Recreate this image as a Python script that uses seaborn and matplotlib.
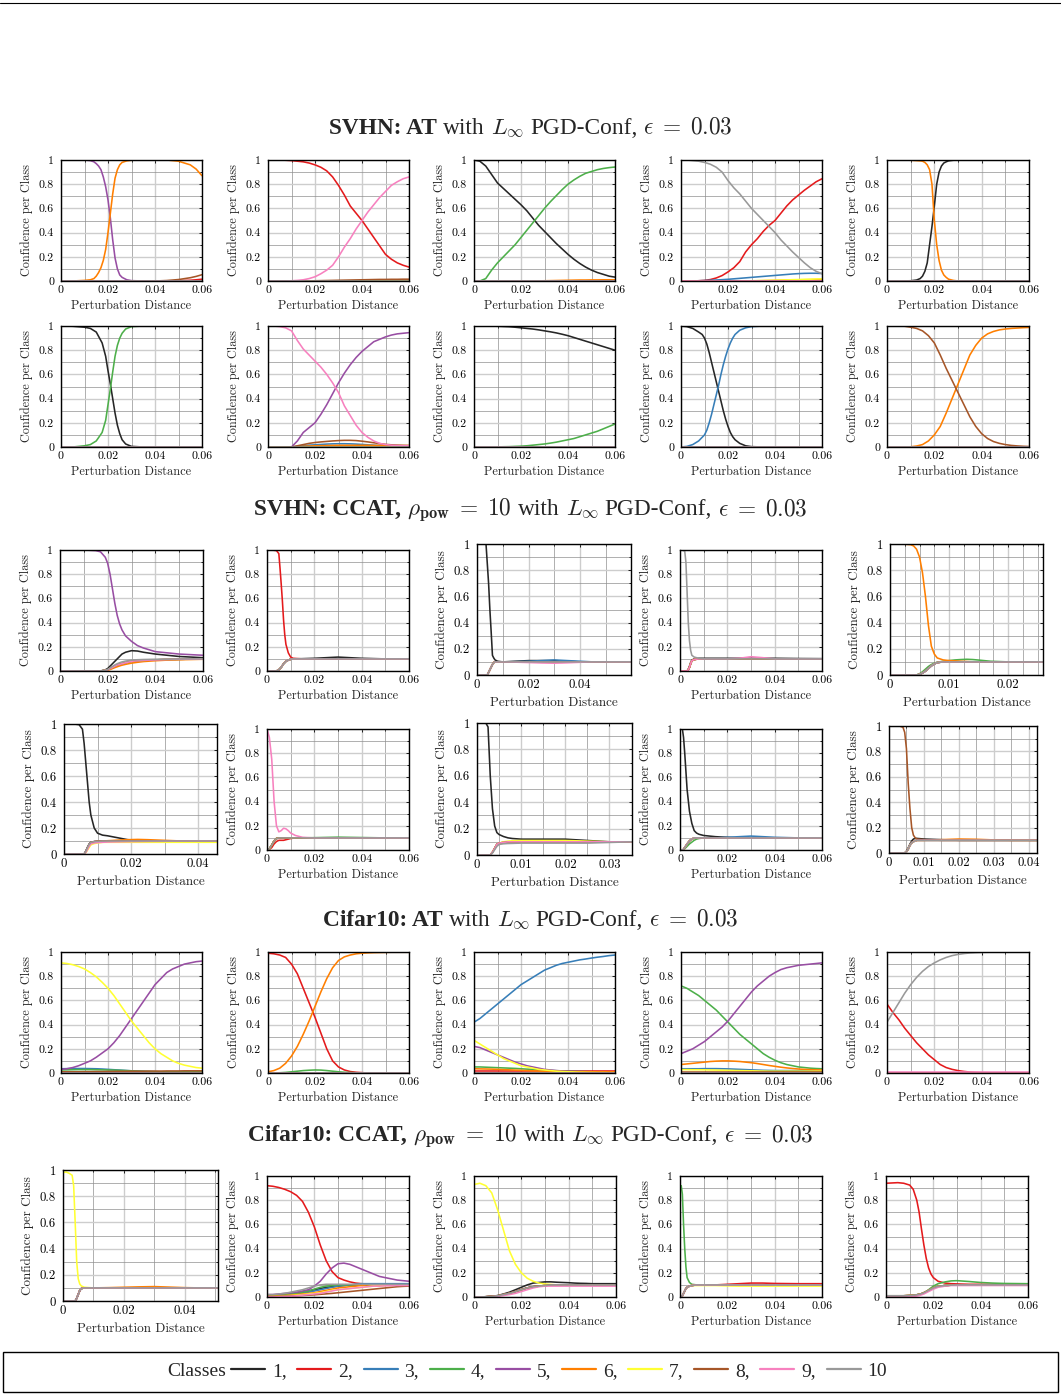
"""
Confidence per class along the adversarial direction (SVHN / Cifar10, AT vs CCAT).
Recreated as a 6 x 5 grid of small line panels plus a shared class legend.
"""

import numpy as np
import pandas as pd
import matplotlib

matplotlib.use("Agg")
import matplotlib.pyplot as plt
import seaborn as sns
from matplotlib.lines import Line2D
from matplotlib.patches import Rectangle
from matplotlib.ticker import MultipleLocator, FuncFormatter

sns.set_theme(style="white")
plt.rcParams["font.family"] = ["cmr10", "DejaVu Serif"]
plt.rcParams["mathtext.fontset"] = "cm"
plt.rcParams["axes.formatter.use_mathtext"] = True

W, H = 1061, 1395

CLASSES = ["1", "2", "3", "4", "5", "6", "7", "8", "9", "10"]
COLORS = ["#262626", "#e41a1c", "#377eb8", "#4daf4a", "#984ea3",
          "#ff7f00", "#ffff33", "#a65628", "#f781bf", "#999999"]
PALETTE = dict(zip(CLASSES, COLORS))

# ----------------------------------------------------------------------
# data: perturbation distance samples and confidences
# ----------------------------------------------------------------------
X60 = [0, 0.0025, 0.005, 0.0075, 0.01, 0.0125, 0.015, 0.0175, 0.02, 0.0225,
       0.025, 0.0275, 0.03, 0.0325, 0.035, 0.0375, 0.04, 0.0425, 0.045,
       0.0475, 0.05, 0.0525, 0.055, 0.0575, 0.06]
ZERO60 = [0, 0, 0, 0, 0, 0, 0, 0, 0, 0, 0, 0, 0, 0, 0, 0, 0, 0, 0, 0, 0, 0, 0, 0, 0]

# --- SVHN, AT -----------------------------------------------------------
A1_X = [0, 0.005, 0.01, 0.0125, 0.014, 0.015, 0.016, 0.017, 0.018, 0.019,
        0.02, 0.021, 0.022, 0.023, 0.024, 0.025, 0.026, 0.028, 0.03, 0.035,
        0.04, 0.045, 0.05, 0.055, 0.0575, 0.06]
A1 = {"x": A1_X,
      "rest": [0, 0, 0, 0, 0, 0, 0, 0, 0, 0, 0, 0, 0, 0, 0, 0, 0, 0, 0, 0, 0,
               0, 0, 0, 0, 0],
      "5": [1, 1, 1, 0.995, 0.985, 0.97, 0.95, 0.92, 0.86, 0.78, 0.67, 0.52,
            0.34, 0.19, 0.1, 0.05, 0.03, 0.01, 0.003, 0, 0, 0, 0, 0, 0, 0],
      "6": [0, 0, 0.005, 0.01, 0.02, 0.04, 0.07, 0.11, 0.17, 0.26, 0.4, 0.56,
            0.72, 0.85, 0.92, 0.96, 0.98, 0.993, 0.998, 1, 1, 1, 0.99, 0.96,
            0.925, 0.87],
      "8": [0, 0, 0, 0, 0, 0, 0, 0, 0, 0, 0, 0, 0, 0, 0, 0, 0, 0, 0, 0, 0,
            0.004, 0.012, 0.027, 0.038, 0.052],
      "2": [0, 0, 0, 0, 0, 0, 0, 0, 0, 0, 0, 0, 0, 0, 0, 0, 0, 0, 0, 0, 0, 0,
            0.003, 0.006, 0.01, 0.015]}
A2 = {"x": X60, "rest": ZERO60,
      "2": [1, 1, 1, 0.998, 0.995, 0.99, 0.985, 0.975, 0.96, 0.94, 0.91, 0.86,
            0.79, 0.71, 0.62, 0.56, 0.5, 0.43, 0.36, 0.29, 0.22, 0.18, 0.15,
            0.13, 0.115],
      "9": [0, 0, 0, 0, 0.002, 0.005, 0.01, 0.02, 0.035, 0.06, 0.09, 0.13,
            0.2, 0.28, 0.35, 0.43, 0.5, 0.57, 0.63, 0.69, 0.74, 0.79, 0.82,
            0.845, 0.86],
      "8": [0, 0, 0, 0, 0, 0, 0, 0, 0.002, 0.003, 0.004, 0.005, 0.006, 0.007,
            0.008, 0.009, 0.01, 0.011, 0.012, 0.013, 0.013, 0.014, 0.014,
            0.015, 0.015]}
A3 = {"x": X60, "rest": ZERO60,
      "1": [1, 0.99, 0.95, 0.88, 0.81, 0.765, 0.72, 0.675, 0.63, 0.58, 0.52,
            0.46, 0.41, 0.36, 0.31, 0.265, 0.22, 0.18, 0.145, 0.115, 0.09,
            0.07, 0.055, 0.04, 0.032],
      "4": [0, 0, 0.02, 0.09, 0.15, 0.2, 0.25, 0.3, 0.36, 0.42, 0.48, 0.54,
            0.6, 0.655, 0.705, 0.755, 0.8, 0.835, 0.865, 0.89, 0.905, 0.92,
            0.93, 0.937, 0.942],
      "6": [0, 0, 0, 0, 0, 0, 0, 0, 0, 0, 0, 0.001, 0.002, 0.003, 0.004, 0.005,
            0.006, 0.007, 0.008, 0.008, 0.009, 0.009, 0.01, 0.01, 0.01]}
A4 = {"x": X60, "rest": ZERO60,
      "10": [1, 1, 0.995, 0.99, 0.98, 0.965, 0.94, 0.9, 0.83, 0.77, 0.72,
             0.66, 0.6, 0.55, 0.5, 0.45, 0.4, 0.34, 0.29, 0.24, 0.195, 0.15,
             0.11, 0.08, 0.06],
      "2": [0, 0, 0, 0.002, 0.005, 0.012, 0.025, 0.045, 0.075, 0.11, 0.16,
            0.24, 0.3, 0.35, 0.41, 0.46, 0.5, 0.56, 0.62, 0.67, 0.71, 0.75,
            0.785, 0.82, 0.845],
      "3": [0, 0, 0, 0.002, 0.004, 0.006, 0.008, 0.011, 0.014, 0.018, 0.022,
            0.026, 0.03, 0.034, 0.038, 0.042, 0.046, 0.05, 0.054, 0.058,
            0.061, 0.063, 0.064, 0.064, 0.062],
      "6": [0, 0, 0, 0, 0, 0, 0, 0, 0, 0, 0, 0, 0.001, 0.002, 0.003, 0.004,
            0.005, 0.006, 0.007, 0.008, 0.009, 0.01, 0.011, 0.012, 0.013],
      "7": [0, 0, 0, 0, 0, 0, 0, 0, 0, 0, 0, 0.001, 0.002, 0.003, 0.004,
            0.005, 0.006, 0.008, 0.009, 0.011, 0.012, 0.014, 0.015, 0.017,
            0.018]}
A5_X = [0, 0.005, 0.01, 0.0125, 0.014, 0.015, 0.016, 0.017, 0.018, 0.019,
        0.02, 0.021, 0.022, 0.023, 0.024, 0.025, 0.026, 0.028, 0.03, 0.035,
        0.04, 0.05, 0.06]
A5 = {"x": A5_X,
      "rest": [0, 0, 0, 0, 0, 0, 0, 0, 0, 0, 0, 0, 0, 0, 0, 0, 0, 0, 0, 0, 0,
               0, 0],
      "1": [0, 0, 0.002, 0.008, 0.02, 0.04, 0.08, 0.15, 0.3, 0.45, 0.62, 0.8,
            0.9, 0.95, 0.975, 0.985, 0.993, 0.998, 1, 1, 1, 1, 1],
      "6": [1, 1, 0.998, 0.995, 0.993, 0.99, 0.98, 0.96, 0.92, 0.8, 0.5, 0.3,
            0.17, 0.09, 0.05, 0.03, 0.015, 0.005, 0, 0, 0, 0, 0]}
A6_X = [0, 0.005, 0.01, 0.0125, 0.015, 0.0175, 0.019, 0.02, 0.021, 0.022,
        0.023, 0.024, 0.025, 0.026, 0.0275, 0.03, 0.035, 0.04, 0.05, 0.06]
A6 = {"x": A6_X,
      "rest": [0, 0, 0, 0, 0, 0, 0, 0, 0, 0, 0, 0, 0, 0, 0, 0, 0, 0, 0, 0],
      "1": [1, 0.998, 0.99, 0.98, 0.95, 0.86, 0.75, 0.63, 0.52, 0.4, 0.28,
            0.18, 0.11, 0.06, 0.025, 0.005, 0, 0, 0, 0],
      "4": [0, 0, 0.01, 0.02, 0.05, 0.12, 0.22, 0.35, 0.48, 0.62, 0.75, 0.84,
            0.9, 0.94, 0.975, 0.995, 1, 1, 1, 1]}
A7 = {"x": X60, "rest": ZERO60,
      "9": [1, 1, 0.995, 0.985, 0.96, 0.88, 0.81, 0.76, 0.71, 0.66, 0.6, 0.53,
            0.45, 0.34, 0.26, 0.18, 0.12, 0.08, 0.05, 0.03, 0.02, 0.015,
            0.012, 0.01, 0.01],
      "5": [0, 0, 0, 0, 0, 0.05, 0.12, 0.16, 0.2, 0.27, 0.35, 0.44, 0.53, 0.61,
            0.68, 0.74, 0.79, 0.83, 0.87, 0.89, 0.91, 0.925, 0.935, 0.94,
            0.945],
      "8": [0, 0, 0, 0, 0, 0.01, 0.02, 0.03, 0.037, 0.042, 0.046, 0.05, 0.053,
            0.055, 0.055, 0.053, 0.048, 0.042, 0.035, 0.028, 0.022, 0.018,
            0.015, 0.013, 0.012],
      "3": [0, 0, 0, 0, 0, 0.005, 0.01, 0.015, 0.018, 0.021, 0.024, 0.026,
            0.027, 0.027, 0.026, 0.024, 0.021, 0.018, 0.015, 0.012, 0.01,
            0.009, 0.008, 0.007, 0.006],
      "6": [0, 0, 0, 0, 0, 0.003, 0.006, 0.008, 0.01, 0.011, 0.012, 0.013,
            0.014, 0.014, 0.014, 0.014, 0.014, 0.014, 0.013, 0.013, 0.013,
            0.012, 0.012, 0.012, 0.012]}
A8 = {"x": X60, "rest": ZERO60,
      "1": [1, 1, 1, 0.999, 0.998, 0.996, 0.994, 0.99, 0.985, 0.98, 0.975,
            0.968, 0.96, 0.952, 0.943, 0.932, 0.92, 0.905, 0.89, 0.875, 0.86,
            0.845, 0.83, 0.815, 0.8],
      "4": [0, 0, 0, 0, 0.001, 0.002, 0.003, 0.005, 0.007, 0.01, 0.015, 0.02,
            0.025, 0.032, 0.04, 0.05, 0.06, 0.07, 0.085, 0.1, 0.115, 0.13,
            0.15, 0.17, 0.19]}
A9_X = [0, 0.0025, 0.005, 0.0075, 0.009, 0.01, 0.011, 0.012, 0.013, 0.014,
        0.015, 0.016, 0.017, 0.018, 0.019, 0.02, 0.021, 0.022, 0.023, 0.025,
        0.0275, 0.03, 0.035, 0.04, 0.05, 0.06]
A9 = {"x": A9_X,
      "rest": [0, 0, 0, 0, 0, 0, 0, 0, 0, 0, 0, 0, 0, 0, 0, 0, 0, 0, 0, 0, 0,
               0, 0, 0, 0, 0],
      "1": [1, 0.995, 0.98, 0.95, 0.93, 0.9, 0.85, 0.78, 0.7, 0.62, 0.54, 0.46,
            0.38, 0.3, 0.23, 0.17, 0.12, 0.085, 0.06, 0.03, 0.01, 0.003, 0, 0,
            0, 0],
      "3": [0, 0.005, 0.02, 0.05, 0.08, 0.1, 0.14, 0.2, 0.27, 0.35, 0.43, 0.51,
            0.6, 0.68, 0.75, 0.81, 0.86, 0.9, 0.93, 0.965, 0.985, 0.995, 1, 1,
            1, 1]}
A10 = {"x": X60, "rest": ZERO60,
       "8": [1, 1, 1, 0.998, 0.99, 0.98, 0.96, 0.92, 0.86, 0.76, 0.65, 0.55,
             0.45, 0.35, 0.25, 0.17, 0.11, 0.07, 0.045, 0.03, 0.02, 0.013,
             0.009, 0.006, 0.004],
       "6": [0, 0, 0, 0, 0.002, 0.008, 0.02, 0.05, 0.1, 0.17, 0.28, 0.4, 0.52,
             0.64, 0.76, 0.84, 0.9, 0.935, 0.955, 0.968, 0.975, 0.98, 0.983,
             0.986, 0.988]}

# --- SVHN, CCAT ---------------------------------------------------------
B1_X = [0, 0.005, 0.01, 0.015, 0.017, 0.019, 0.02, 0.021, 0.022, 0.023,
        0.024, 0.025, 0.026, 0.0275, 0.03, 0.0325, 0.035, 0.04, 0.045, 0.05,
        0.055, 0.06]
B1 = {"x": B1_X,
      "rest": [0, 0, 0, 0, 0, 0.005, 0.01, 0.02, 0.03, 0.04, 0.05, 0.055,
               0.06, 0.068, 0.08, 0.085, 0.088, 0.092, 0.095, 0.097, 0.098, 0.1],
      "5": [1, 1, 1, 0.995, 0.985, 0.94, 0.89, 0.8, 0.68, 0.56, 0.46, 0.39,
            0.34, 0.29, 0.245, 0.21, 0.19, 0.16, 0.15, 0.14, 0.135, 0.13],
      "1": [0, 0, 0, 0, 0, 0.01, 0.02, 0.04, 0.06, 0.08, 0.1, 0.12, 0.14,
            0.155, 0.168, 0.165, 0.155, 0.14, 0.13, 0.12, 0.115, 0.11],
      "6": [0, 0, 0, 0, 0, 0.003, 0.006, 0.012, 0.02, 0.028, 0.035, 0.042,
            0.048, 0.055, 0.065, 0.072, 0.078, 0.085, 0.09, 0.093, 0.095,
            0.097],
      "10": [0, 0, 0, 0, 0, 0.006, 0.012, 0.025, 0.038, 0.05, 0.06, 0.068,
             0.075, 0.082, 0.09, 0.093, 0.095, 0.097, 0.098, 0.099, 0.1, 0.1]}
B2_X = [0, 0.002, 0.004, 0.005, 0.0055, 0.006, 0.0065, 0.007, 0.0075, 0.008,
        0.009, 0.01, 0.011, 0.015, 0.02, 0.025, 0.03, 0.035, 0.04, 0.05, 0.06]
B2 = {"x": B2_X,
      "rest": [0, 0, 0, 0.01, 0.02, 0.03, 0.045, 0.06, 0.07, 0.08, 0.09,
               0.097, 0.1, 0.1, 0.1, 0.1, 0.1, 0.1, 0.1, 0.1, 0.1],
      "2": [1, 1, 0.995, 0.97, 0.85, 0.72, 0.58, 0.42, 0.3, 0.22, 0.15, 0.115,
            0.105, 0.1, 0.1, 0.1, 0.1, 0.1, 0.1, 0.1, 0.1],
      "1": [0, 0, 0, 0.01, 0.02, 0.03, 0.045, 0.06, 0.07, 0.08, 0.09, 0.097,
            0.1, 0.102, 0.105, 0.11, 0.115, 0.11, 0.105, 0.1, 0.1]}
B3_X = [0, 0.002, 0.003, 0.0035, 0.004, 0.0045, 0.005, 0.0055, 0.006, 0.0065,
        0.007, 0.008, 0.01, 0.015, 0.02, 0.025, 0.03, 0.035, 0.04, 0.045,
        0.05, 0.0598]
B3 = {"x": B3_X,
      "rest": [0, 0, 0, 0, 0, 0.02, 0.04, 0.06, 0.08, 0.095, 0.1, 0.1, 0.1,
               0.1, 0.1, 0.1, 0.1, 0.1, 0.1, 0.1, 0.1, 0.1],
      "1": [1, 1, 1, 1, 0.85, 0.7, 0.5, 0.33, 0.15, 0.13, 0.115, 0.105, 0.1,
            0.105, 0.11, 0.11, 0.11, 0.105, 0.1, 0.1, 0.1, 0.1],
      "3": [0, 0, 0, 0, 0, 0.02, 0.04, 0.06, 0.08, 0.095, 0.1, 0.1, 0.1,
            0.102, 0.105, 0.11, 0.115, 0.11, 0.105, 0.1, 0.1, 0.1],
      "9": [0, 0, 0, 0, 0, 0.02, 0.04, 0.06, 0.08, 0.095, 0.1, 0.1, 0.1,
            0.098, 0.095, 0.092, 0.09, 0.093, 0.097, 0.1, 0.1, 0.1]}
B4_X = [0, 0.001, 0.002, 0.0025, 0.003, 0.0035, 0.004, 0.0045, 0.005, 0.006,
        0.008, 0.01, 0.02, 0.025, 0.03, 0.035, 0.04, 0.05, 0.06]
B4 = {"x": B4_X,
      "rest": [0, 0, 0, 0, 0, 0.01, 0.03, 0.06, 0.085, 0.095, 0.1, 0.1, 0.1,
               0.1, 0.1, 0.1, 0.1, 0.1, 0.1],
      "10": [1, 1, 0.99, 0.9, 0.65, 0.4, 0.25, 0.17, 0.13, 0.115, 0.105, 0.1,
             0.1, 0.1, 0.1, 0.1, 0.1, 0.1, 0.1],
      "9": [0, 0, 0, 0, 0, 0.01, 0.03, 0.06, 0.085, 0.095, 0.1, 0.1, 0.1,
            0.105, 0.118, 0.11, 0.1, 0.1, 0.1],
      "1": [0, 0, 0, 0, 0, 0.015, 0.04, 0.07, 0.09, 0.1, 0.105, 0.105, 0.105,
            0.105, 0.105, 0.105, 0.105, 0.103, 0.102]}
B5_X = [0, 0.002, 0.0035, 0.004, 0.0045, 0.005, 0.0055, 0.006, 0.0065, 0.007,
        0.0075, 0.008, 0.009, 0.01, 0.011, 0.012, 0.013, 0.014, 0.015, 0.017,
        0.02, 0.0259]
B5 = {"x": B5_X,
      "rest": [0, 0, 0, 0, 0, 0.005, 0.015, 0.03, 0.05, 0.07, 0.085, 0.095,
               0.1, 0.1, 0.1, 0.1, 0.1, 0.1, 0.1, 0.1, 0.1, 0.1],
      "6": [1, 1, 0.995, 0.985, 0.96, 0.9, 0.78, 0.6, 0.38, 0.22, 0.16, 0.13,
            0.115, 0.11, 0.108, 0.105, 0.103, 0.1, 0.1, 0.1, 0.1, 0.1],
      "4": [0, 0, 0, 0, 0, 0.01, 0.025, 0.045, 0.065, 0.08, 0.09, 0.098,
            0.105, 0.11, 0.115, 0.118, 0.12, 0.118, 0.114, 0.105, 0.1, 0.1]}
B6_X = [0, 0.003, 0.0045, 0.0055, 0.006, 0.0065, 0.007, 0.0075, 0.008,
        0.009, 0.01, 0.0115, 0.013, 0.015, 0.017, 0.019, 0.022, 0.025, 0.03,
        0.035, 0.04, 0.0456]
B6 = {"x": B6_X,
      "rest": [0, 0, 0, 0, 0, 0.02, 0.05, 0.075, 0.09, 0.095, 0.097, 0.1, 0.1,
               0.1, 0.1, 0.1, 0.1, 0.1, 0.1, 0.1, 0.1, 0.1],
      "1": [1, 1, 0.995, 0.96, 0.85, 0.7, 0.55, 0.4, 0.3, 0.2, 0.16, 0.145,
            0.14, 0.13, 0.12, 0.11, 0.105, 0.1, 0.1, 0.1, 0.1, 0.1],
      "6": [0, 0, 0, 0, 0, 0.015, 0.04, 0.065, 0.085, 0.093, 0.097, 0.1,
            0.102, 0.105, 0.108, 0.11, 0.112, 0.11, 0.105, 0.1, 0.1, 0.1],
      "7": [0, 0, 0, 0, 0, 0.01, 0.03, 0.05, 0.07, 0.08, 0.085, 0.09, 0.09,
            0.09, 0.09, 0.09, 0.09, 0.09, 0.09, 0.09, 0.09, 0.09],
      "9": [0, 0, 0, 0, 0, 0.012, 0.035, 0.06, 0.078, 0.085, 0.088, 0.09,
            0.092, 0.093, 0.094, 0.095, 0.096, 0.097, 0.098, 0.099, 0.1, 0.1]}
B7_X = [0, 0.001, 0.002, 0.003, 0.004, 0.005, 0.006, 0.007, 0.008, 0.009,
        0.01, 0.012, 0.015, 0.02, 0.03, 0.04, 0.05, 0.06]
B7 = {"x": B7_X,
      "rest": [0, 0.01, 0.04, 0.075, 0.095, 0.1, 0.1, 0.1, 0.1, 0.1, 0.1, 0.1,
               0.1, 0.1, 0.1, 0.1, 0.1, 0.1],
      "9": [1, 0.93, 0.75, 0.4, 0.2, 0.15, 0.16, 0.18, 0.175, 0.16, 0.14, 0.12,
            0.105, 0.1, 0.1, 0.1, 0.1, 0.1],
      "2": [0, 0.005, 0.02, 0.05, 0.07, 0.08, 0.08, 0.08, 0.085, 0.09, 0.095,
            0.1, 0.1, 0.1, 0.1, 0.1, 0.1, 0.1],
      "4": [0, 0.01, 0.04, 0.075, 0.095, 0.1, 0.1, 0.1, 0.1, 0.1, 0.1, 0.1,
            0.1, 0.102, 0.106, 0.103, 0.1, 0.1]}
B8_X = [0, 0.002, 0.0025, 0.003, 0.0035, 0.004, 0.0045, 0.005, 0.006, 0.007,
        0.008, 0.01, 0.015, 0.02, 0.025, 0.03, 0.0351]
B8 = {"x": B8_X,
      "rest": [0, 0, 0, 0, 0.02, 0.05, 0.08, 0.09, 0.095, 0.1, 0.1, 0.1, 0.1,
               0.1, 0.1, 0.1, 0.1],
      "1": [1, 1, 0.97, 0.6, 0.35, 0.22, 0.17, 0.155, 0.14, 0.13, 0.125, 0.12,
            0.12, 0.12, 0.11, 0.1, 0.1],
      "7": [0, 0, 0, 0, 0.02, 0.05, 0.08, 0.09, 0.1, 0.105, 0.108, 0.11, 0.11,
            0.11, 0.105, 0.1, 0.1],
      "10": [0, 0, 0, 0, 0.015, 0.04, 0.065, 0.08, 0.085, 0.087, 0.088, 0.09,
             0.09, 0.09, 0.09, 0.095, 0.1]}
B9_X = [0, 0.001, 0.0015, 0.002, 0.003, 0.004, 0.005, 0.006, 0.007, 0.008,
        0.01, 0.015, 0.02, 0.025, 0.03, 0.035, 0.04, 0.05, 0.06]
B9 = {"x": B9_X,
      "rest": [0, 0, 0.005, 0.02, 0.05, 0.075, 0.09, 0.1, 0.1, 0.1, 0.1, 0.1,
               0.1, 0.1, 0.1, 0.1, 0.1, 0.1, 0.1],
      "1": [1, 1, 0.93, 0.8, 0.5, 0.32, 0.22, 0.16, 0.14, 0.13, 0.12, 0.11,
            0.105, 0.1, 0.1, 0.1, 0.1, 0.1, 0.1],
      "3": [0, 0, 0.005, 0.02, 0.05, 0.075, 0.09, 0.1, 0.1, 0.1, 0.1, 0.1,
            0.105, 0.11, 0.115, 0.11, 0.105, 0.1, 0.1],
      "4": [0, 0, 0, 0.01, 0.03, 0.05, 0.065, 0.08, 0.09, 0.095, 0.1, 0.1,
            0.1, 0.1, 0.1, 0.1, 0.1, 0.1, 0.1]}
B10_X = [0, 0.003, 0.004, 0.0045, 0.005, 0.0055, 0.006, 0.0065, 0.007,
         0.0075, 0.008, 0.01, 0.015, 0.02, 0.025, 0.03, 0.035, 0.0424]
B10 = {"x": B10_X,
       "rest": [0, 0, 0, 0, 0.01, 0.03, 0.06, 0.08, 0.09, 0.095, 0.1, 0.1,
                0.1, 0.1, 0.1, 0.1, 0.1, 0.1],
       "8": [1, 1, 0.99, 0.95, 0.82, 0.55, 0.35, 0.2, 0.14, 0.12, 0.11, 0.105,
             0.1, 0.1, 0.1, 0.1, 0.1, 0.1],
       "1": [0, 0, 0, 0, 0.015, 0.04, 0.07, 0.095, 0.11, 0.115, 0.115, 0.11,
             0.105, 0.1, 0.1, 0.1, 0.1, 0.1],
       "6": [0, 0, 0, 0, 0.01, 0.03, 0.06, 0.08, 0.09, 0.095, 0.1, 0.1, 0.105,
             0.11, 0.108, 0.103, 0.1, 0.1]}

# --- Cifar10, AT --------------------------------------------------------
C1 = {"x": X60, "rest": ZERO60,
      "7": [0.91, 0.905, 0.895, 0.88, 0.86, 0.83, 0.795, 0.75, 0.7, 0.64, 0.57,
            0.5, 0.43, 0.37, 0.31, 0.25, 0.2, 0.16, 0.13, 0.1, 0.08, 0.065,
            0.055, 0.045, 0.04],
      "5": [0.03, 0.035, 0.045, 0.06, 0.08, 0.1, 0.13, 0.165, 0.2, 0.25, 0.31,
            0.38, 0.45, 0.52, 0.59, 0.66, 0.73, 0.78, 0.83, 0.86, 0.88, 0.9,
            0.91, 0.92, 0.925],
      "3": [0.035, 0.036, 0.037, 0.037, 0.037, 0.036, 0.035, 0.033, 0.03,
            0.027, 0.024, 0.021, 0.018, 0.016, 0.014, 0.012, 0.011, 0.01,
            0.009, 0.008, 0.008, 0.007, 0.007, 0.006, 0.006],
      "4": [0.025, 0.026, 0.027, 0.028, 0.028, 0.028, 0.027, 0.026, 0.025,
            0.024, 0.022, 0.02, 0.018, 0.016, 0.014, 0.012, 0.011, 0.01, 0.01,
            0.01, 0.01, 0.01, 0.01, 0.01, 0.01],
      "8": [0.01, 0.01, 0.01, 0.01, 0.011, 0.011, 0.012, 0.012, 0.013, 0.013,
            0.014, 0.014, 0.015, 0.015, 0.015, 0.016, 0.016, 0.016, 0.017,
            0.017, 0.017, 0.018, 0.018, 0.018, 0.018]}
C2 = {"x": X60, "rest": ZERO60,
      "2": [0.99, 0.985, 0.975, 0.955, 0.9, 0.82, 0.7, 0.58, 0.46, 0.33, 0.2,
            0.1, 0.05, 0.025, 0.012, 0.006, 0.003, 0, 0, 0, 0, 0, 0, 0, 0],
      "6": [0.01, 0.02, 0.04, 0.08, 0.14, 0.22, 0.32, 0.43, 0.55, 0.67, 0.78,
            0.87, 0.93, 0.96, 0.975, 0.985, 0.99, 0.993, 0.995, 0.996, 0.997,
            0.998, 0.998, 0.998, 0.998],
      "4": [0, 0, 0.002, 0.005, 0.01, 0.015, 0.02, 0.023, 0.025, 0.024, 0.02,
            0.015, 0.01, 0.006, 0.004, 0.002, 0, 0, 0, 0, 0, 0, 0, 0, 0]}
C3 = {"x": X60, "rest": ZERO60,
      "3": [0.42, 0.45, 0.49, 0.53, 0.57, 0.61, 0.65, 0.69, 0.73, 0.76, 0.79,
            0.82, 0.85, 0.87, 0.89, 0.905, 0.915, 0.925, 0.935, 0.942, 0.95,
            0.957, 0.963, 0.97, 0.975],
      "7": [0.27, 0.24, 0.21, 0.18, 0.15, 0.12, 0.1, 0.08, 0.06, 0.05, 0.04,
            0.03, 0.025, 0.02, 0.015, 0.012, 0.01, 0.008, 0.006, 0.005, 0.004,
            0.003, 0.003, 0.002, 0.002],
      "5": [0.22, 0.21, 0.19, 0.17, 0.15, 0.13, 0.11, 0.09, 0.075, 0.06, 0.05,
            0.04, 0.03, 0.025, 0.02, 0.017, 0.015, 0.013, 0.012, 0.011, 0.01,
            0.01, 0.01, 0.01, 0.01],
      "4": [0.05, 0.05, 0.048, 0.046, 0.044, 0.042, 0.04, 0.038, 0.035, 0.032,
            0.03, 0.027, 0.024, 0.021, 0.019, 0.017, 0.015, 0.013, 0.012,
            0.011, 0.01, 0.009, 0.008, 0.008, 0.008],
      "6": [0.035, 0.034, 0.033, 0.032, 0.03, 0.028, 0.026, 0.024, 0.022, 0.02,
            0.018, 0.016, 0.015, 0.014, 0.013, 0.012, 0.011, 0.01, 0.01, 0.01,
            0.01, 0.01, 0.01, 0.01, 0.01],
      "2": [0.015, 0.015, 0.015, 0.015, 0.015, 0.015, 0.015, 0.015, 0.015,
            0.015, 0.015, 0.015, 0.015, 0.015, 0.015, 0.015, 0.015, 0.015,
            0.015, 0.015, 0.015, 0.015, 0.015, 0.015, 0.015]}
C4 = {"x": X60, "rest": ZERO60,
      "4": [0.72, 0.7, 0.67, 0.64, 0.6, 0.56, 0.52, 0.47, 0.42, 0.37, 0.32,
            0.28, 0.24, 0.2, 0.16, 0.13, 0.105, 0.085, 0.07, 0.06, 0.05, 0.045,
            0.04, 0.037, 0.035],
      "5": [0.16, 0.18, 0.2, 0.23, 0.26, 0.3, 0.34, 0.38, 0.43, 0.49, 0.55,
            0.61, 0.67, 0.72, 0.76, 0.8, 0.83, 0.855, 0.87, 0.88, 0.89, 0.895,
            0.9, 0.905, 0.91],
      "6": [0.07, 0.075, 0.08, 0.085, 0.09, 0.095, 0.098, 0.1, 0.1, 0.098,
            0.095, 0.09, 0.085, 0.078, 0.07, 0.062, 0.055, 0.048, 0.042, 0.037,
            0.033, 0.03, 0.028, 0.026, 0.025],
      "3": [0.035, 0.035, 0.035, 0.035, 0.036, 0.036, 0.036, 0.035, 0.034,
            0.032, 0.03, 0.028, 0.026, 0.024, 0.022, 0.021, 0.02, 0.02, 0.02,
            0.02, 0.02, 0.02, 0.02, 0.02, 0.02],
      "7": [0.028, 0.028, 0.027, 0.027, 0.026, 0.025, 0.024, 0.023, 0.022,
            0.021, 0.02, 0.019, 0.018, 0.017, 0.016, 0.015, 0.015, 0.015,
            0.015, 0.015, 0.015, 0.015, 0.015, 0.015, 0.015],
      "8": [0.012, 0.012, 0.012, 0.012, 0.012, 0.012, 0.012, 0.012, 0.012,
            0.012, 0.012, 0.012, 0.012, 0.012, 0.012, 0.012, 0.012, 0.012,
            0.012, 0.012, 0.012, 0.012, 0.012, 0.012, 0.012]}
C5 = {"x": X60, "rest": ZERO60,
      "10": [0.42, 0.5, 0.58, 0.66, 0.73, 0.79, 0.84, 0.88, 0.91, 0.935, 0.955,
             0.97, 0.98, 0.987, 0.992, 0.995, 0.997, 0.998, 0.999, 1, 1, 1, 1,
             1, 1],
      "2": [0.57, 0.5, 0.44, 0.37, 0.31, 0.25, 0.2, 0.15, 0.11, 0.07, 0.045,
            0.03, 0.02, 0.013, 0.008, 0.005, 0.003, 0.002, 0.001, 0, 0, 0, 0,
            0, 0],
      "9": [0.01, 0.01, 0.01, 0.01, 0.01, 0.01, 0.01, 0.01, 0.01, 0.01, 0.01,
            0.01, 0.01, 0.01, 0.01, 0.01, 0.01, 0.01, 0.01, 0.01, 0.01, 0.01,
            0.01, 0.01, 0.01]}

# --- Cifar10, CCAT ------------------------------------------------------
D1_X = [0, 0.001, 0.002, 0.003, 0.0035, 0.004, 0.0045, 0.005, 0.0055, 0.006,
        0.007, 0.008, 0.01, 0.015, 0.02, 0.025, 0.03, 0.035, 0.04, 0.045,
        0.0509]
D1 = {"x": D1_X,
      "rest": [0, 0, 0, 0, 0, 0, 0.02, 0.05, 0.08, 0.095, 0.1, 0.1, 0.1, 0.1,
               0.1, 0.1, 0.1, 0.1, 0.1, 0.1, 0.1],
      "7": [0.98, 0.985, 0.975, 0.96, 0.88, 0.6, 0.3, 0.17, 0.13, 0.115,
            0.105, 0.103, 0.1, 0.1, 0.1, 0.1, 0.1, 0.1, 0.1, 0.1, 0.1],
      "6": [0, 0, 0, 0, 0, 0, 0.02, 0.05, 0.08, 0.095, 0.1, 0.1, 0.1, 0.102,
            0.105, 0.108, 0.11, 0.106, 0.102, 0.1, 0.1]}
D2 = {"x": X60, "rest": ZERO60,
      "2": [0.92, 0.915, 0.905, 0.89, 0.87, 0.84, 0.79, 0.7, 0.58, 0.43, 0.3,
            0.21, 0.16, 0.14, 0.125, 0.115, 0.11, 0.105, 0.1, 0.1, 0.1, 0.1,
            0.1, 0.1, 0.1],
      "5": [0.02, 0.02, 0.025, 0.03, 0.035, 0.04, 0.05, 0.06, 0.09, 0.13, 0.19,
            0.24, 0.275, 0.28, 0.27, 0.25, 0.23, 0.21, 0.19, 0.17, 0.16, 0.15,
            0.14, 0.135, 0.13],
      "10": [0.02, 0.02, 0.025, 0.03, 0.04, 0.05, 0.06, 0.075, 0.09, 0.1,
             0.105, 0.105, 0.105, 0.105, 0.105, 0.105, 0.105, 0.105, 0.105,
             0.105, 0.105, 0.105, 0.105, 0.105, 0.105],
      "4": [0.01, 0.012, 0.015, 0.02, 0.025, 0.03, 0.04, 0.05, 0.065, 0.08,
            0.09, 0.095, 0.1, 0.1, 0.1, 0.1, 0.1, 0.1, 0.1, 0.1, 0.1, 0.1, 0.1,
            0.1, 0.1],
      "3": [0.01, 0.012, 0.014, 0.017, 0.02, 0.025, 0.03, 0.04, 0.05, 0.06,
            0.07, 0.08, 0.09, 0.095, 0.1, 0.105, 0.11, 0.11, 0.11, 0.11, 0.11,
            0.11, 0.11, 0.11, 0.11],
      "6": [0.005, 0.007, 0.01, 0.012, 0.015, 0.02, 0.025, 0.03, 0.035, 0.045,
            0.055, 0.065, 0.075, 0.08, 0.085, 0.09, 0.095, 0.1, 0.1, 0.1, 0.1,
            0.1, 0.1, 0.1, 0.1],
      "7": [0.005, 0.006, 0.008, 0.01, 0.012, 0.015, 0.02, 0.025, 0.03, 0.035,
            0.045, 0.055, 0.06, 0.065, 0.07, 0.075, 0.08, 0.085, 0.09, 0.09,
            0.095, 0.095, 0.1, 0.1, 0.1],
      "8": [0.005, 0.005, 0.006, 0.007, 0.008, 0.01, 0.012, 0.015, 0.018,
            0.022, 0.026, 0.03, 0.035, 0.04, 0.045, 0.05, 0.055, 0.06, 0.065,
            0.07, 0.075, 0.08, 0.085, 0.088, 0.09],
      "9": [0, 0, 0.002, 0.004, 0.006, 0.01, 0.015, 0.02, 0.025, 0.03, 0.04,
            0.05, 0.06, 0.065, 0.07, 0.075, 0.08, 0.085, 0.09, 0.09, 0.092,
            0.094, 0.095, 0.095, 0.095],
      "1": [0.01, 0.012, 0.015, 0.02, 0.025, 0.03, 0.04, 0.05, 0.06, 0.07,
            0.08, 0.085, 0.09, 0.095, 0.1, 0.1, 0.1, 0.1, 0.1, 0.1, 0.1, 0.1,
            0.1, 0.1, 0.1]}
D3 = {"x": X60,
      "rest": [0, 0, 0.002, 0.005, 0.01, 0.02, 0.03, 0.045, 0.06, 0.075, 0.085,
               0.09, 0.095, 0.1, 0.1, 0.1, 0.1, 0.1, 0.1, 0.1, 0.1, 0.1, 0.1,
               0.1, 0.1],
      "7": [0.93, 0.94, 0.92, 0.86, 0.72, 0.55, 0.38, 0.27, 0.2, 0.155, 0.13,
            0.115, 0.108, 0.104, 0.1, 0.1, 0.1, 0.1, 0.1, 0.1, 0.1, 0.1, 0.1,
            0.1, 0.1],
      "1": [0, 0, 0.002, 0.005, 0.012, 0.025, 0.04, 0.06, 0.08, 0.1, 0.115,
            0.12, 0.125, 0.125, 0.122, 0.12, 0.118, 0.115, 0.113, 0.112, 0.11,
            0.11, 0.11, 0.11, 0.11],
      "9": [0, 0, 0, 0.002, 0.006, 0.012, 0.02, 0.03, 0.045, 0.06, 0.075,
            0.085, 0.09, 0.09, 0.09, 0.09, 0.09, 0.09, 0.09, 0.09, 0.09, 0.09,
            0.09, 0.09, 0.09]}
D4_X = [0, 0.0005, 0.001, 0.0015, 0.002, 0.0025, 0.003, 0.004, 0.005, 0.007,
        0.01, 0.015, 0.02, 0.025, 0.03, 0.035, 0.04, 0.05, 0.06]
D4 = {"x": D4_X,
      "rest": [0, 0.005, 0.01, 0.03, 0.05, 0.07, 0.08, 0.09, 0.095, 0.1, 0.1,
               0.1, 0.1, 0.1, 0.1, 0.1, 0.1, 0.1, 0.1],
      "4": [0.9, 0.92, 0.85, 0.6, 0.4, 0.25, 0.16, 0.12, 0.105, 0.1, 0.1, 0.1,
            0.1, 0.1, 0.1, 0.1, 0.1, 0.1, 0.1],
      "2": [0, 0.005, 0.01, 0.03, 0.05, 0.07, 0.08, 0.09, 0.095, 0.1, 0.1, 0.1,
            0.105, 0.11, 0.115, 0.115, 0.112, 0.11, 0.11],
      "7": [0, 0.005, 0.01, 0.03, 0.05, 0.07, 0.08, 0.09, 0.095, 0.095, 0.095,
            0.095, 0.092, 0.09, 0.09, 0.09, 0.09, 0.09, 0.09]}
D5_X = [0, 0.005, 0.0075, 0.01, 0.0115, 0.013, 0.014, 0.015, 0.016, 0.017,
        0.018, 0.019, 0.02, 0.022, 0.025, 0.0275, 0.03, 0.035, 0.04, 0.045,
        0.05, 0.06]
D5 = {"x": D5_X,
      "rest": [0.01, 0.01, 0.01, 0.012, 0.015, 0.018, 0.022, 0.027, 0.035,
               0.045, 0.055, 0.065, 0.075, 0.088, 0.095, 0.098, 0.1, 0.1, 0.1,
               0.1, 0.1, 0.1],
      "2": [0.94, 0.945, 0.94, 0.925, 0.89, 0.8, 0.7, 0.56, 0.43, 0.32, 0.24,
            0.19, 0.16, 0.13, 0.115, 0.11, 0.108, 0.105, 0.105, 0.105, 0.105,
            0.105],
      "4": [0.01, 0.01, 0.01, 0.01, 0.012, 0.015, 0.02, 0.025, 0.035, 0.045,
            0.06, 0.075, 0.09, 0.11, 0.125, 0.133, 0.135, 0.128, 0.12, 0.115,
            0.112, 0.11],
      "9": [0, 0, 0, 0.002, 0.005, 0.008, 0.012, 0.018, 0.025, 0.035, 0.045,
            0.055, 0.065, 0.08, 0.09, 0.095, 0.095, 0.095, 0.095, 0.095, 0.095,
            0.095]}

# ----------------------------------------------------------------------
# layout (pixel boxes: left, top, right, bottom), x range, tick steps
# ----------------------------------------------------------------------
FS = 8.5     # tick label size, regular panels
FS_BIG = 9.1  # tick label size, the slightly larger panels
COLS = [(61, 202), (268, 409), (474, 615), (681, 822), (887, 1029)]
PANELS = []
for d, (l, r) in zip([A1, A2, A3, A4, A5], COLS):
    PANELS.append((d, (l, 160, r, 281), 0.06, 0.02, 0.01, FS))
for d, (l, r) in zip([A6, A7, A8, A9, A10], COLS):
    PANELS.append((d, (l, 326, r, 447), 0.06, 0.02, 0.01, FS))
PANELS += [
    (B1, (60, 550, 203, 671), 0.06, 0.02, 0.01, FS),
    (B2, (267, 550, 409, 671), 0.06, 0.02, 0.01, FS),
    (B3, (477, 544, 631, 675), 0.0598, 0.02, 0.01, FS_BIG),
    (B4, (680, 550, 822, 671), 0.06, 0.02, 0.01, FS),
    (B5, (890, 544, 1043, 675), 0.0259, 0.01, 0.0025, FS_BIG),
    (B6, (64, 724, 217, 854), 0.0456, 0.02, 0.01, FS_BIG),
    (B7, (267, 729, 409, 850), 0.06, 0.02, 0.01, FS),
    (B8, (477, 723, 632, 855), 0.0351, 0.01, 0.005, FS_BIG),
    (B9, (680, 729, 822, 850), 0.06, 0.02, 0.01, FS),
    (B10, (889, 726, 1037, 853), 0.0424, 0.01, 0.005, FS_BIG),
]
for d, (l, r) in zip([C1, C2, C3, C4, C5], COLS):
    PANELS.append((d, (l, 952, r, 1073), 0.06, 0.02, 0.01, FS))
PANELS += [
    (D1, (63, 1170, 218, 1301), 0.0509, 0.02, 0.01, FS_BIG),
    (D2, (267, 1176, 409, 1297), 0.06, 0.02, 0.01, FS),
    (D3, (474, 1176, 616, 1297), 0.06, 0.02, 0.01, FS),
    (D4, (680, 1176, 822, 1297), 0.06, 0.02, 0.01, FS),
    (D5, (886, 1176, 1028, 1297), 0.06, 0.02, 0.01, FS),
]

EPS = r"$\epsilon\;=\;0.03$"
RHO = r"$\rho_{\mathbf{pow}}\;=\;10$"
TITLES = [
    (134, [("SVHN: AT", "bold"), ("with", "normal"), (r"$L_\infty$", "math"),
           ("PGD-Conf,", "normal"), (EPS, "math")]),
    (515, [("SVHN: CCAT,", "bold"), (RHO, "math"), ("with", "normal"),
           (r"$L_\infty$", "math"), ("PGD-Conf,", "normal"), (EPS, "math")]),
    (926, [("Cifar10: AT", "bold"), ("with", "normal"), (r"$L_\infty$", "math"),
           ("PGD-Conf,", "normal"), (EPS, "math")]),
    (1141, [("Cifar10: CCAT,", "bold"), (RHO, "math"), ("with", "normal"),
            (r"$L_\infty$", "math"), ("PGD-Conf,", "normal"), (EPS, "math")]),
]


def fmt(v, _pos):
    return f"{v:g}"


def draw_panel(fig, data, box, xmax, major, minor, fs):
    l, t, r, b = box
    ax = fig.add_axes([l / W, 1 - b / H, (r - l) / W, (b - t) / H])
    rows = []
    for c in CLASSES:
        ys = data.get(c, data["rest"])
        for x, y in zip(data["x"], ys):
            rows.append((x, y, c))
    df = pd.DataFrame(rows, columns=["eps", "conf", "cls"])
    sns.lineplot(data=df, x="eps", y="conf", hue="cls", hue_order=CLASSES,
                 palette=PALETTE, estimator=None, sort=False, legend=False,
                 linewidth=1.15, ax=ax)
    ax.set_xlim(0, xmax)
    ax.set_ylim(0, 1)
    ax.xaxis.set_major_locator(MultipleLocator(major))
    ax.xaxis.set_minor_locator(MultipleLocator(minor))
    ax.yaxis.set_major_locator(MultipleLocator(0.2))
    ax.yaxis.set_minor_locator(MultipleLocator(0.1))
    ax.xaxis.set_major_formatter(FuncFormatter(fmt))
    ax.yaxis.set_major_formatter(FuncFormatter(fmt))
    ax.grid(which="major", color="#cdcdcd", linewidth=1.0)
    ax.grid(which="minor", color="#8f8f8f", linewidth=0.5)
    ax.set_axisbelow(True)
    ax.tick_params(which="both", direction="in", top=True, right=True,
                   width=0.6, colors="black", labelsize=fs)
    ax.tick_params(which="major", length=2.5)
    ax.tick_params(which="minor", length=1.5)
    ax.tick_params(axis="x", pad=3)
    ax.tick_params(axis="y", pad=5)
    for s in ax.spines.values():
        s.set_color("black")
        s.set_linewidth(1.0)
    ax.set_xlabel("Perturbation Distance", fontsize=fs + 0.4, labelpad=4)
    ax.set_ylabel("Confidence per Class", fontsize=fs + 0.3, labelpad=4)
    return ax


def draw_title(fig, y_px, pieces, size=16.8, gap=6.0, center=531.0):
    renderer = fig.canvas.get_renderer()
    texts = []
    for s, kind in pieces:
        kw = dict(fontsize=size, va="baseline", ha="left")
        if kind != "math":
            kw["family"] = ["Liberation Serif", "DejaVu Serif"]
            kw["weight"] = kind
        texts.append(fig.text(0, 1 - y_px / H, s, **kw))
    widths = [tx.get_window_extent(renderer).width for tx in texts]
    total = sum(widths) + gap * (len(texts) - 1)
    x = center - total / 2
    for tx, w in zip(texts, widths):
        tx.set_x(x / W)
        x += w + gap


def main():
    fig = plt.figure(figsize=(W / 100, H / 100), dpi=100)

    for d, box, xmax, major, minor, fs in PANELS:
        draw_panel(fig, d, box, xmax, major, minor, fs)

    for y_px, pieces in TITLES:
        draw_title(fig, y_px, pieces)

    # rule at the very top of the page
    fig.add_artist(Line2D([0, 1], [1 - 3 / H, 1 - 3 / H],
                          transform=fig.transFigure, color="black", lw=0.8))

    # legend box at the bottom
    fig.add_artist(Rectangle((3 / W, 1 - 1392 / H), 1055 / W, 40 / H,
                             transform=fig.transFigure, fill=False,
                             edgecolor="black", linewidth=1.0))
    handles = [Line2D([], [], color=PALETTE[c], lw=1.6) for c in CLASSES]
    labels = [c + "," for c in CLASSES[:-1]] + [CLASSES[-1]]
    prop = dict(family="Liberation Serif", size=14)
    fig.legend(handles, labels, loc="center left",
               bbox_to_anchor=(231 / W, 1 - 1371 / H), ncol=10, frameon=False,
               prop=prop, handlelength=1.75, handletextpad=0.35,
               columnspacing=0.55, borderaxespad=0, borderpad=0)
    fig.text(226 / W, 1 - 1371 / H, "Classes", ha="right", va="center",
             family="Liberation Serif", fontsize=14)

    fig.savefig("out.png", dpi=100)
    plt.close(fig)


if __name__ == "__main__":
    main()
